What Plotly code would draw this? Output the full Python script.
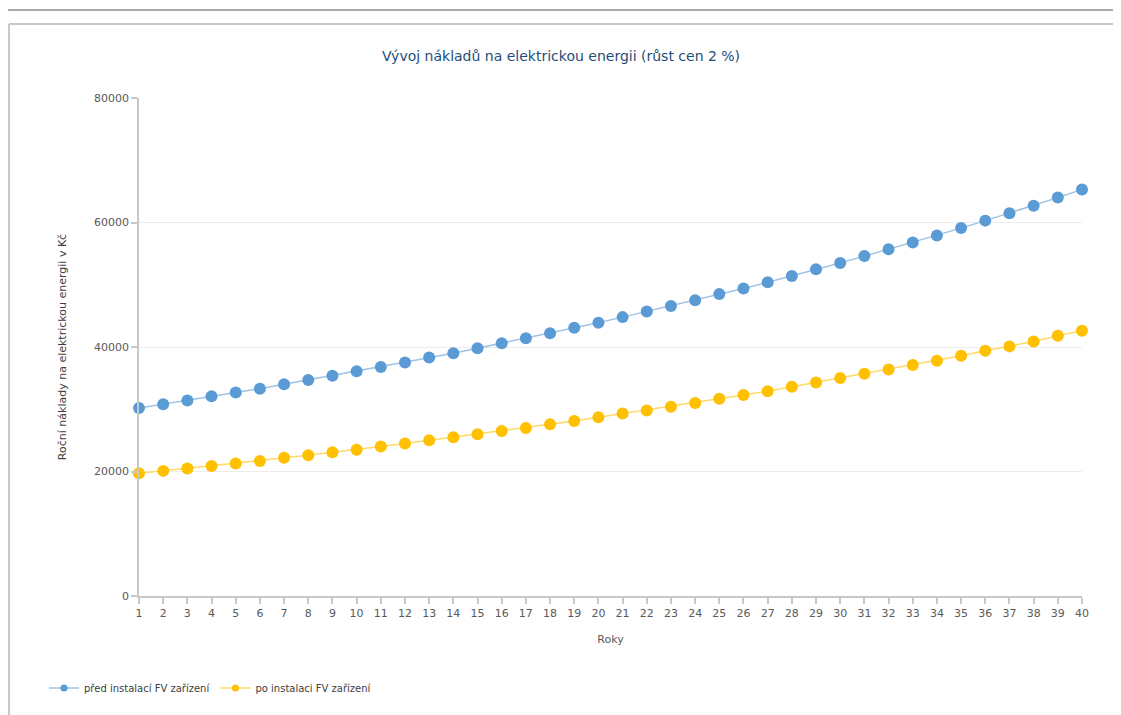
import plotly.graph_objects as go

years = list(range(1, 41))
pred_fv = [30200, 30800, 31400, 32100, 32700, 33300, 34000, 34700, 35400, 36100,
           36800, 37500, 38300, 39000, 39800, 40600, 41400, 42200, 43100, 43900,
           44800, 45700, 46600, 47500, 48500, 49400, 50400, 51400, 52500, 53500,
           54600, 55700, 56800, 57900, 59100, 60300, 61500, 62700, 64000, 65300]
po_fv = [19700, 20100, 20500, 20900, 21300, 21700, 22200, 22600, 23100, 23500,
         24000, 24500, 25000, 25500, 26000, 26500, 27000, 27600, 28100, 28700,
         29300, 29800, 30400, 31000, 31700, 32300, 32900, 33600, 34300, 35000,
         35700, 36400, 37100, 37800, 38600, 39400, 40100, 40900, 41800, 42600]
series_names = ["před instalací FV zařízení", "po instalaci FV zařízení"]
title_text = "Vývoj nákladů na elektrickou energii (růst cen 2 %)"
x_title = "Roky"
y_title = "Roční náklady na elektrickou energii v Kč"

OFF = 8  # page body margin
W, H = 1121 - OFF, 715 - OFF
L, R, T, B = 139 - OFF, 39, 98 - OFF, 119
PW, PH = W - L - R, H - T - B

def px(x):
    return (x - OFF - L) / PW

def py(y):
    return (H - B - (y - OFF)) / PH

FONT = "DejaVu Sans"
line_cols = ["#9dc3e6", "#ffd966"]
mark_cols = ["#5b9bd5", "#ffc000"]

fig = go.Figure()
for vals, name, lc, mc in [(pred_fv, series_names[0], line_cols[0], mark_cols[0]),
                           (po_fv, series_names[1], line_cols[1], mark_cols[1])]:
    fig.add_trace(go.Scatter(
        x=years, y=vals, name=name, mode="lines+markers", showlegend=False,
        line=dict(color=lc, width=1.5),
        marker=dict(color=mc, size=12, line=dict(width=0)),
        cliponaxis=False))
for name, lc, mc in [(series_names[0], line_cols[0], mark_cols[0]),
                     (series_names[1], line_cols[1], mark_cols[1])]:
    fig.add_trace(go.Scatter(
        x=[None], y=[None], name=name, mode="lines+markers",
        line=dict(color=lc, width=1.5),
        marker=dict(color=mc, size=7, line=dict(width=0))))

frame = dict(xref="paper", yref="paper", type="line", layer="above")
shapes = [
    dict(**frame, x0=px(OFF), x1=px(1121), y0=py(10), y1=py(10), line=dict(color="#aaaaaa", width=2)),
    dict(**frame, x0=px(9), x1=px(1121), y0=py(24), y1=py(24), line=dict(color="#c8c8c8", width=2)),
    dict(**frame, x0=px(9), x1=px(9), y0=py(24), y1=py(715), line=dict(color="#c8c8c8", width=2)),
]

fig.update_layout(
    width=W, height=H,
    margin=dict(l=L, r=R, t=T, b=B, autoexpand=False),
    paper_bgcolor="white", plot_bgcolor="white",
    font=dict(family=FONT, size=11, color="#595959"),
    title=dict(text=title_text, x=px(561), xanchor="center", xref="paper",
               y=1 - (56 - OFF) / H, yanchor="middle",
               font=dict(family=FONT, size=14, color="#1f4e79")),
    showlegend=True,
    legend=dict(orientation="h", x=px(44), xanchor="left", y=py(688), yanchor="middle",
                font=dict(family=FONT, size=10, color="#404040"),
                tracegroupgap=0, bgcolor="rgba(0,0,0,0)"),
    shapes=shapes,
    xaxis=dict(range=[1, 40], tickmode="linear", tick0=1, dtick=1,
               showgrid=False, zeroline=False, showline=True, linecolor="#c8c8c8", linewidth=1.5,
               ticks="outside", ticklen=6, tickcolor="#c8c8c8", tickwidth=1.5,
               tickfont=dict(size=11, color="#595959"),
               title=dict(text=x_title, standoff=16, font=dict(size=11, color="#595959"))),
    yaxis=dict(range=[0, 80000], tickmode="linear", tick0=0, dtick=20000, tickformat="d",
               showgrid=True, gridcolor="#ececec", gridwidth=1, zeroline=False,
               showline=True, linecolor="#c8c8c8", linewidth=1.5,
               ticks="outside", ticklen=6, tickcolor="#c8c8c8", tickwidth=1.5,
               tickfont=dict(size=11, color="#595959"),
               title=dict(text=y_title, standoff=25, font=dict(size=11, color="#404040"))),
)

fig.write_html("out.html")
